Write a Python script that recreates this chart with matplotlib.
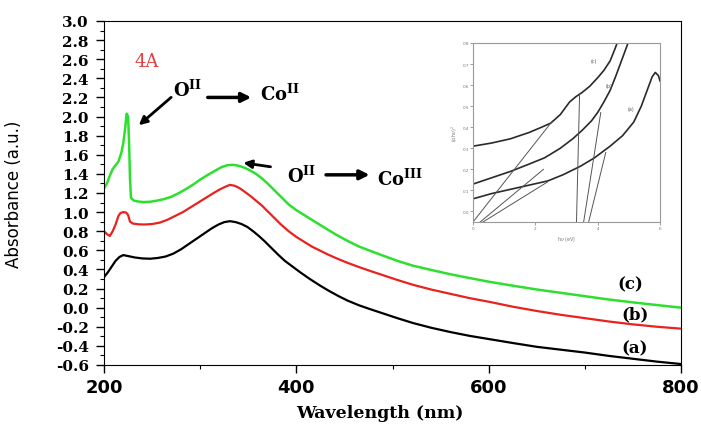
import matplotlib
matplotlib.use("Agg")
import matplotlib.pyplot as plt
import numpy as np
from matplotlib.ticker import MultipleLocator

plt.rcParams['axes.unicode_minus'] = False
plt.rcParams['mathtext.fontset'] = 'dejavuserif'

# main spectra (wavelength nm, absorbance a.u.)
wl_a = [200, 204, 208, 212, 216, 220, 225, 232, 240, 248, 256, 264, 272, 280, 288, 296, 304, 312, 319, 325,
        331, 337, 343, 349, 355, 361, 367, 374, 381, 388, 396, 404, 414, 424, 434, 444, 453, 465, 478, 490,
        505, 521, 540, 560, 580, 601, 625, 650, 675, 700, 725, 750, 775, 800]
abs_a = [0.32, 0.37, 0.43, 0.49, 0.53, 0.55, 0.54, 0.525, 0.515, 0.512, 0.52, 0.535, 0.565, 0.61, 0.665, 0.72,
         0.775, 0.83, 0.87, 0.895, 0.905, 0.895, 0.875, 0.845, 0.80, 0.75, 0.695, 0.625, 0.555, 0.49, 0.43,
         0.37, 0.30, 0.235, 0.175, 0.12, 0.075, 0.025, -0.02, -0.06, -0.11, -0.16, -0.21, -0.255, -0.295,
         -0.33, -0.37, -0.41, -0.44, -0.47, -0.505, -0.535, -0.565, -0.59]

wl_b = [200, 203, 206, 209, 212, 215, 217, 220, 223, 225, 227, 230, 236, 242, 250, 258, 266, 274, 282, 290,
        298, 306, 314, 320, 326, 331, 336, 341, 346, 352, 358, 364, 370, 377, 384, 392, 400, 408, 416, 424,
        432, 442, 453, 465, 478, 490, 505, 521, 540, 560, 580, 601, 625, 650, 675, 700, 725, 750, 775, 800]
abs_b = [0.80, 0.77, 0.75, 0.80, 0.87, 0.96, 0.99, 1.00, 0.995, 0.97, 0.90, 0.88, 0.872, 0.87, 0.875, 0.89,
         0.92, 0.96, 1.00, 1.05, 1.10, 1.15, 1.20, 1.235, 1.265, 1.285, 1.275, 1.25, 1.215, 1.17, 1.12, 1.07,
         1.01, 0.94, 0.87, 0.80, 0.74, 0.69, 0.64, 0.60, 0.56, 0.515, 0.47, 0.425, 0.38, 0.34, 0.29, 0.24,
         0.19, 0.145, 0.10, 0.06, 0.01, -0.035, -0.075, -0.11, -0.145, -0.175, -0.20, -0.22]

wl_c = [200, 203, 206, 209, 212, 215, 218, 220, 222, 223.5, 225, 226, 227, 228, 231, 236, 241, 248, 255, 262,
        270, 278, 285, 293, 300, 308, 315, 322, 328, 334, 340, 346, 352, 358, 364, 370, 377, 384, 392, 400,
        408, 416, 424, 432, 442, 453, 465, 478, 490, 505, 521, 540, 560, 580, 601, 625, 650, 675, 700, 725,
        750, 775, 800]
abs_c = [1.25, 1.30, 1.38, 1.45, 1.49, 1.53, 1.62, 1.72, 1.88, 2.03, 2.00, 1.75, 1.35, 1.15, 1.12, 1.11,
         1.105, 1.108, 1.12, 1.135, 1.16, 1.20, 1.24, 1.29, 1.34, 1.39, 1.43, 1.47, 1.49, 1.495, 1.485,
         1.465, 1.435, 1.40, 1.355, 1.30, 1.23, 1.16, 1.08, 1.02, 0.97, 0.92, 0.87, 0.82, 0.76, 0.70, 0.64,
         0.59, 0.545, 0.49, 0.44, 0.395, 0.35, 0.31, 0.27, 0.23, 0.19, 0.155, 0.12, 0.085, 0.055, 0.027, 0.0]

# inset Tauc plot, hv (eV) vs (ahv)^2
hv_a = [0.0, 0.6, 1.2, 1.8, 2.4, 2.9, 3.45, 3.9, 4.4, 4.8, 5.16, 5.4, 5.6, 5.75, 5.85, 5.95, 6.0]
tauc_a = [0.06, 0.085, 0.105, 0.125, 0.145, 0.175, 0.215, 0.255, 0.31, 0.36, 0.425, 0.50, 0.58, 0.64, 0.66, 0.645, 0.62]
hv_b = [0.0, 0.6, 1.2, 1.8, 2.3, 2.8, 3.2, 3.5, 3.8, 4.0, 4.2, 4.4, 4.6, 4.8, 5.0]
tauc_b = [0.13, 0.16, 0.19, 0.225, 0.255, 0.30, 0.345, 0.385, 0.43, 0.47, 0.52, 0.575, 0.65, 0.73, 0.81]
hv_c = [0.0, 0.6, 1.2, 1.8, 2.2, 2.5, 2.8, 3.1, 3.3, 3.5, 3.75, 4.0, 4.2, 4.4, 4.55, 4.65]
tauc_c = [0.31, 0.325, 0.345, 0.375, 0.40, 0.42, 0.46, 0.52, 0.545, 0.565, 0.595, 0.635, 0.67, 0.715, 0.77, 0.81]

# straight fit lines drawn in the inset: (x0, y0, x1, y1)
fit_lines = [
    (0.0, -0.05, 2.55, 0.43),
    (0.23, -0.05, 2.26, 0.20),
    (0.32, -0.05, 2.39, 0.14),
    (3.32, -0.05, 3.42, 0.56),
    (3.55, -0.05, 4.10, 0.47),
    (3.71, -0.05, 4.26, 0.28),
]

fig = plt.figure(figsize=(7.01, 4.27), dpi=100)
ax = fig.add_axes([0.1484, 0.1429, 0.8231, 0.8056])

ax.plot(wl_a, abs_a, color='black', lw=1.6)
ax.plot(wl_b, abs_b, color='#e8231f', lw=1.6)
ax.plot(wl_c, abs_c, color='#2ee02e', lw=1.8)

ax.set_xlim(200, 800)
ax.set_ylim(-0.6, 3.0)
ax.set_xticks([200, 400, 600, 800])
ax.xaxis.set_minor_locator(MultipleLocator(100))
yt = np.round(np.arange(-0.6, 3.01, 0.2), 1)
ax.set_yticks(yt)
ax.yaxis.set_minor_locator(MultipleLocator(0.1))
ax.tick_params(which='major', direction='out', length=6, width=1)
ax.tick_params(which='minor', direction='out', length=3, width=0.8)
ax.tick_params(axis='y', pad=5)
ax.set_yticklabels(['%.1f' % v for v in yt], fontfamily='DejaVu Serif', fontweight='bold', fontsize=11)
ax.set_xticklabels(['200', '400', '600', '800'], fontweight='bold', fontsize=13)
ax.set_xlabel('Wavelength (nm)', fontfamily='DejaVu Serif', fontweight='bold', fontsize=12.5)
ax.xaxis.set_label_coords(0.478, -0.112)
ax.set_ylabel('Absorbance (a.u.)', fontsize=12)
ax.yaxis.set_label_coords(-0.14, 0.5)

# annotations
ax.text(232, 2.58, '4A', color='#e04040', fontfamily='DejaVu Serif', fontsize=13, va='center')
ax.text(272, 2.22, r'$\mathbf{O^{II}}$', fontsize=13)
ax.annotate('', xy=(234, 1.89), xytext=(272, 2.22),
            arrowprops=dict(arrowstyle='-|>', color='black', lw=2, mutation_scale=12))
ax.annotate('', xy=(356, 2.2), xytext=(305, 2.2),
            arrowprops=dict(arrowstyle='-|>', color='black', lw=2.5, mutation_scale=14))
ax.text(362, 2.18, r'$\mathbf{Co^{II}}$', fontsize=13)
ax.annotate('', xy=(342, 1.52), xytext=(376, 1.47),
            arrowprops=dict(arrowstyle='-|>', color='black', lw=2, mutation_scale=12))
ax.text(390, 1.32, r'$\mathbf{O^{II}}$', fontsize=13)
ax.annotate('', xy=(479, 1.39), xytext=(428, 1.39),
            arrowprops=dict(arrowstyle='-|>', color='black', lw=2.5, mutation_scale=14))
ax.text(484, 1.29, r'$\mathbf{Co^{III}}$', fontsize=13)

ax.text(747, 0.25, '(c)', fontfamily='DejaVu Serif', fontweight='bold', fontsize=12, ha='center', va='center')
ax.text(752, -0.07, '(b)', fontfamily='DejaVu Serif', fontweight='bold', fontsize=12, ha='center', va='center')
ax.text(752, -0.42, '(a)', fontfamily='DejaVu Serif', fontweight='bold', fontsize=12, ha='center', va='center')

# inset
ins = fig.add_axes([0.6748, 0.4778, 0.2667, 0.4192])
ins.plot(hv_a, tauc_a, color='#2a2a2a', lw=1.2)
ins.plot(hv_b, tauc_b, color='#2a2a2a', lw=1.2)
ins.plot(hv_c, tauc_c, color='#2a2a2a', lw=1.2)
for x0, y0, x1, y1 in fit_lines:
    ins.plot([x0, x1], [y0, y1], color='#555555', lw=0.7)
ins.set_xlim(0, 6)
ins.set_ylim(-0.05, 0.8)
ins.set_xticks([0, 2, 4, 6])
ins.set_yticks(np.round(np.arange(0, 0.81, 0.1), 1))
ins.tick_params(labelsize=3, length=2, width=0.5, colors='#777777', pad=1)
for s in ins.spines.values():
    s.set_color('#999999')
    s.set_linewidth(0.8)
ins.set_xlabel(r'h$\nu$ (eV)', fontsize=3.5, color='#777777', labelpad=3)
ins.set_ylabel(r'($\alpha$h$\nu$)$^2$', fontsize=3.5, color='#777777', labelpad=2)
ins.text(3.87, 0.71, '(c)', fontsize=3.5, color='#555555', ha='center')
ins.text(4.35, 0.59, '(b)', fontsize=3.5, color='#555555', ha='center')
ins.text(5.06, 0.48, '(a)', fontsize=3.5, color='#555555', ha='center')

fig.savefig('out.png', dpi=100)
